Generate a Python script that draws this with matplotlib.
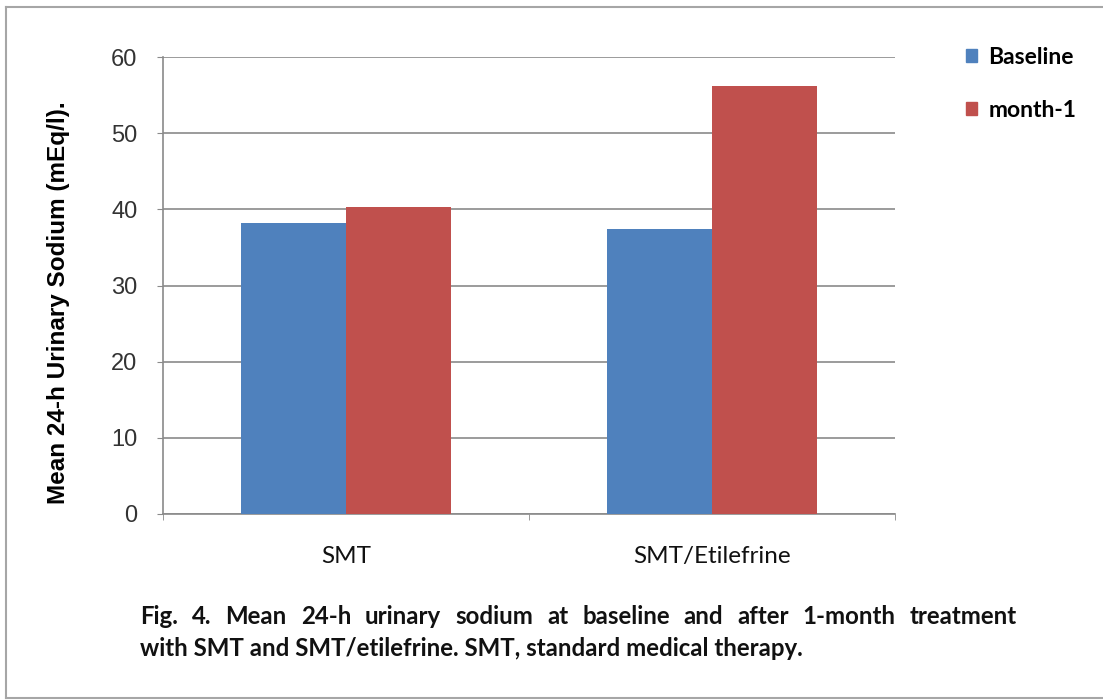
import numpy as np
import matplotlib
matplotlib.use('Agg')
from matplotlib import pyplot as plt
from matplotlib.patches import Patch
from matplotlib.lines import Line2D

## data
groups = ['SMT', 'SMT/Etilefrine']
baseline = [38.2, 37.4]
month1 = [40.3, 56.2]
series_names = ['Baseline', 'month-1']
yticks = [0, 10, 20, 30, 40, 50, 60]
caption1 = 'Fig. 4. Mean 24-h urinary sodium at baseline and after 1-month treatment'
caption2 = 'with SMT and SMT/etilefrine. SMT, standard medical therapy.'

blue = '#4F81BD'
red = '#C0504D'
gridc = '#8A8A8A'
W, H = 1103, 700

fig = plt.figure(figsize=(W/100, H/100), dpi=100)
ax = fig.add_axes([163/W, 1-514/H, 732/W, 457/H])

x = np.arange(len(groups))
bw = 1/3.5
ax.bar(x - bw/2, baseline, bw, color=blue, zorder=3)
ax.bar(x + bw/2, month1, bw, color=red, zorder=3)

ax.set_xlim(-0.5, 1.5)
ax.set_ylim(0, 60)
ax.set_yticks(yticks)
ax.set_yticklabels([str(v) for v in yticks], fontsize=17, family='Liberation Sans', color='#333333')
ax.tick_params(axis='y', direction='out', length=4.5, color=gridc, pad=14)
ax.set_xticks(x)
ax.set_xticklabels(groups, fontsize=17.5, family='Lato', color='#111111')
ax.tick_params(axis='x', which='major', length=0, pad=23)
ax.set_xticks([-0.5, 0.5, 1.5], minor=True)
ax.tick_params(axis='x', which='minor', direction='out', length=4.5, color=gridc)
ax.grid(axis='y', color=gridc, lw=1.2, zorder=0)
ax.set_axisbelow(True)
for s in ['top', 'right']:
    ax.spines[s].set_visible(False)
for s in ['left', 'bottom']:
    ax.spines[s].set_color(gridc)
    ax.spines[s].set_linewidth(1.2)

ax.set_ylabel('Mean 24-h Urinary Sodium (mEq/l).', fontsize=17.5, fontweight='bold',
              family='Liberation Sans')
ax.yaxis.set_label_coords(-0.127, 0.462)

fig.legend(handles=[Patch(color=blue), Patch(color=red)], labels=series_names,
           loc='upper left', bbox_to_anchor=(945/W, 1-26/H), frameon=False,
           prop={'family': 'Lato', 'size': 16.5, 'weight': 'bold'},
           handlelength=0.5, handleheight=0.5, handletextpad=0.5, labelspacing=1.4)

## caption, first line justified
cap_kw = dict(fontsize=17.3, fontweight='bold', family='Lato', color='#111111', va='center')
left_px, right_px = 140, 1017
r = fig.canvas.get_renderer()
words = caption1.split(' ')
txts = [fig.text(0, 1-617/H, w, **cap_kw) for w in words]
widths = [t.get_window_extent(r).width for t in txts]
gap = (right_px - left_px - sum(widths)) / (len(words) - 1)
pos = left_px
for t, w in zip(txts, widths):
    t.set_x(pos/W)
    pos += w + gap
fig.text(left_px/W, 1-648/H, caption2, **cap_kw)

## grey frame round the picture
fc = '#A6A6A6'
fig.add_artist(Line2D([6/W, 6/W], [1-7/H, 1-698/H], color=fc, lw=1.5))
fig.add_artist(Line2D([6/W, 1], [1-7/H, 1-7/H], color=fc, lw=1.5))
fig.add_artist(Line2D([6/W, 1], [1-698/H, 1-698/H], color=fc, lw=1.5))

fig.savefig('out.png', dpi=100)
